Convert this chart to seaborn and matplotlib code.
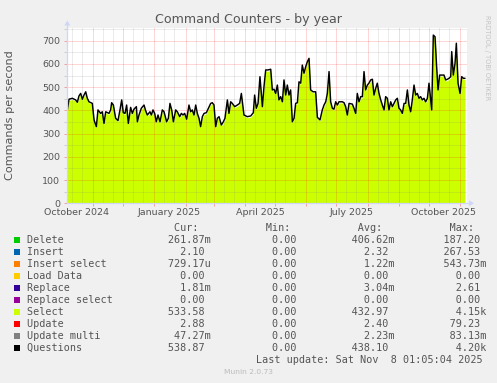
import numpy as np
import pandas as pd
import matplotlib
matplotlib.use("Agg")
import matplotlib.pyplot as plt
import seaborn as sns
from matplotlib.patches import Rectangle, Polygon
from matplotlib.lines import Line2D

# ---------------- data ----------------
START = "2024-10-06 10:30"          # time of the first sample
END = "2025-11-07 10:30"            # right edge of the time window

# sample times, in days after START
days = [0, 1.7, 5, 8.3, 10, 11.6, 13.3, 15, 16.6, 18.3, 19.9, 21.6, 24.9, 26.6, 28.9,
        30.5, 33.2, 34.8, 36.5, 38.2, 41.5, 43.1, 44.1, 45.8, 48.1, 50.4, 52.4, 54.1,
        55.7, 57.4, 59.0, 60.7, 63.0, 64.7, 66.3, 68.7, 69.7, 71.3, 73.6, 76.3, 77.9,
        79.6, 82.2, 83.6, 85.2, 86.9, 88.5, 90.2, 92.2, 94.5, 96.2, 98.8, 100.5, 102.1,
        103.8, 105.5, 107.8, 109.4, 111.8, 113.4, 115.1, 116.7, 118.7, 121.0, 122.7,
        124.3, 126.0, 127.7, 129.3, 131.0, 132.6, 134.3, 136.0, 138.3, 140.3, 142.6,
        144.2, 145.9, 147.6, 149.2, 150.9, 153.2, 155.2, 156.8, 159.2, 160.8, 162.5,
        164.1, 166.5, 169.1, 171.4, 173.1, 175.7, 179.0, 182.4, 185.0, 186.3, 188.0,
        189.7, 191.6, 194.0, 195.6, 197.3, 199.6,
        202.3, 203.9, 205.6, 207.2, 208.9, 210.5, 212.2, 213.9, 215.5, 217.2, 218.8,
        220.5, 222.1, 223.8, 225.5, 227.1, 228.8, 230.4, 232.1, 233.7, 235.4, 237.1,
        238.7, 240.4, 242.0, 244.4, 247.0, 248.7, 251.3, 253.6, 255.3, 257.0, 258.6,
        260.3, 261.9, 263.6, 265.2, 266.9, 268.6, 270.2, 273.5, 275.2, 276.8, 278.5,
        280.2, 283.5, 285.1, 286.8, 288.4, 290.1, 291.8, 293.4, 295.1, 296.7, 298.4,
        300.0, 301.7, 303.4, 305.0, 306.7, 308.3, 310.0, 311.7, 313.3, 315.0, 316.6,
        318.3, 319.9, 321.6, 323.3, 324.9, 326.6, 328.2, 329.9, 331.5, 333.2, 334.9,
        336.5, 338.2, 339.8, 341.5, 343.1, 344.8, 346.5, 348.1, 349.8, 351.4, 353.1,
        354.7, 356.4, 358.1, 359.7, 361.4, 362.4, 364.0, 365.7, 367.3, 368.7, 370.3,
        373.0, 374.6, 376.3, 378.0, 379.6, 381.3, 382.3, 383.9, 385.6, 386.9, 388.6,
        390.6, 392.2, 393.9, 395.5]

questions = [400, 448, 452, 445, 435, 462, 473, 448, 466, 480, 452, 437, 430, 359, 330,
             402, 387, 394, 344, 394, 387, 402, 433, 423, 366, 356, 402, 445, 390, 387,
             423, 344, 413, 387, 405, 416, 351, 380, 409, 423, 399, 380, 394, 380, 402,
             387, 351, 380, 351, 402, 394, 351, 366, 430, 402, 351, 402, 394, 373, 387,
             380, 387, 362, 423, 394, 402, 380, 423, 387, 366, 330, 373, 387, 390, 409,
             430, 433, 423, 330, 366, 373, 337, 351, 366, 445, 387, 437, 430, 416, 423,
             430, 473, 380, 373, 376, 390, 466, 409, 430, 545, 416, 502, 574, 574,
             577, 488, 491, 473, 509, 445, 459, 437, 531, 466, 509, 466, 488, 351, 366,
             430, 433, 523, 517, 595, 560, 588, 609, 624, 488, 480, 480, 370, 359, 402,
             423, 437, 473, 567, 437, 409, 405, 437, 423, 437, 437, 433, 416, 380, 430,
             427, 409, 387, 473, 437, 459, 459, 567, 488, 509, 517, 531, 534, 466, 495,
             517, 473, 445, 423, 402, 459, 452, 402, 437, 416, 430, 445, 452, 409, 402,
             387, 430, 430, 488, 423, 394, 445, 509, 466, 473, 452, 459, 445, 452, 437,
             452, 517, 445, 402, 724, 717, 588, 488, 552, 552, 552, 531, 534, 538, 545,
             653, 552, 603, 689, 517, 473, 545, 538, 538]

select = [395, 443, 447, 440, 430, 457, 468, 443, 461, 475, 447, 432, 425, 354, 325,
          397, 382, 389, 339, 389, 382, 397, 428, 418, 361, 351, 397, 440, 385, 382,
          418, 339, 408, 382, 400, 411, 346, 375, 404, 418, 394, 375, 389, 375, 397,
          382, 346, 375, 346, 397, 389, 346, 361, 425, 397, 346, 397, 389, 368, 382,
          375, 382, 357, 418, 389, 397, 375, 418, 382, 361, 325, 368, 382, 385, 404,
          425, 428, 418, 325, 361, 368, 332, 346, 361, 440, 382, 432, 425, 411, 418,
          425, 468, 375, 368, 371, 385, 461, 404, 425, 540, 411, 497, 569, 569,
          572, 483, 486, 468, 504, 440, 454, 432, 526, 461, 504, 461, 483, 346, 361,
          425, 428, 518, 512, 590, 555, 583, 604, 619, 483, 475, 475, 365, 354, 397,
          418, 432, 468, 562, 432, 404, 400, 432, 418, 432, 432, 428, 411, 375, 425,
          422, 404, 382, 468, 432, 454, 454, 562, 483, 504, 512, 526, 529, 461, 490,
          512, 468, 440, 418, 397, 454, 447, 397, 432, 411, 425, 440, 447, 404, 397,
          382, 425, 425, 483, 418, 389, 440, 504, 461, 468, 447, 454, 440, 447, 432,
          447, 512, 440, 397, 719, 712, 583, 483, 547, 547, 547, 526, 529, 533, 540,
          648, 547, 598, 684, 512, 468, 540, 533, 534]

x_labels = ["October 2024", "January 2025", "April 2025", "July 2025", "October 2025"]
x_label_dates = ["2024-10-16", "2025-01-16", "2025-04-16", "2025-07-16", "2025-10-16"]
y_ticks = [0, 100, 200, 300, 400, 500, 600, 700]

legend_labels = ["Delete", "Insert", "Insert select", "Load Data", "Replace",
                 "Replace select", "Select", "Update", "Update multi", "Questions"]
legend_colors = ["#00CC00", "#0066B3", "#FF8000", "#FFCC00", "#330099",
                 "#990099", "#CCFF00", "#FF0000", "#808080", "#000000"]
cur_vals = ["261.87m", "2.10", "729.17u", "0.00", "1.81m", "0.00", "533.58", "2.88", "47.27m", "538.87"]
min_vals = ["0.00"] * 10
avg_vals = ["406.62m", "2.32", "1.22m", "0.00", "3.04m", "0.00", "432.97", "2.40", "2.23m", "438.10"]
max_vals = ["187.20", "267.53", "543.73m", "0.00", "2.61", "0.00", "4.15k", "79.23", "83.13m", "4.20k"]

# ---------------- styling ----------------
W, H = 497, 383
sns.set_theme(style="white")
plt.rcParams["font.family"] = ["DejaVu Sans"]
TXT = "#555555"
AXC = "#CFD6F8"
MGRID = (1.0, 0.0, 0.0, 0.32)
GRID = (0.5, 0.5, 0.5, 0.30)

fig = plt.figure(figsize=(W / 100, H / 100), dpi=100, facecolor="#F0F0F0")


def fx(x):
    return x / W


def fy(y):
    return 1 - y / H


L, R, T, B = 67.3, 466.5, 27.9, 203.3
ax = fig.add_axes([fx(L), fy(B), (R - L) / W, (B - T) / H])
ax.set_facecolor("white")

t0 = pd.Timestamp(START)
dates = t0 + pd.to_timedelta(np.array(days), unit="D")
df = pd.DataFrame({"time": dates, "Questions": questions, "Select": select})

ax.fill_between(df["time"], 0, df["Select"], color="#CCFF00", lw=0, zorder=2)
sns.lineplot(data=df, x="time", y="Questions", color="black", lw=1.05, ax=ax, zorder=4)

ax.set_xlim(t0, pd.Timestamp(END))
ax.set_ylim(0, 755)

# grid lines (dotted, RRDtool style)
dot = (0, (1, 1))
gkw = dict(ls=dot, lw=0.72, zorder=3)
for m in pd.date_range("2024-11-01", "2025-11-01", freq="MS"):
    ax.axvline(m, color=MGRID, **gkw)
for m in pd.date_range("2024-10-01", "2025-10-01", freq="MS"):
    for d in (10, 20):
        ax.axvline(m + pd.Timedelta(days=d), color=GRID, **gkw)
for v in range(100, 800, 100):
    ax.axhline(v, color=MGRID, **gkw)
for v in range(50, 800, 100):
    ax.axhline(v, color=GRID, **gkw)

# ticks
ax.set_yticks(y_ticks, labels=[str(v) for v in y_ticks])
ax.set_yticks(list(range(50, 800, 100)), minor=True)
ax.set_xticks(list(pd.date_range("2024-11-01", "2025-11-01", freq="MS")), labels=[""] * 13)
ax.set_xticks(list(pd.to_datetime(x_label_dates)), labels=x_labels, minor=True)
ax.tick_params(axis="y", which="major", length=2, width=0.72, color=MGRID, pad=3.2,
               labelsize=6.8, labelcolor=TXT, left=True)
ax.tick_params(axis="y", which="minor", length=2, width=0.72, color=GRID, left=True)
ax.tick_params(axis="x", which="major", length=2, width=0.72, color=MGRID, bottom=True)
ax.tick_params(axis="x", which="minor", length=0, pad=3.3, labelsize=6.8, labelcolor=TXT,
               bottom=True)
ax.set_xlabel("")
ax.set_ylabel("")

for s in ("top", "right"):
    ax.spines[s].set_visible(False)
for s in ("left", "bottom"):
    ax.spines[s].set_color(AXC)
    ax.spines[s].set_linewidth(0.9)
    ax.spines[s].set_zorder(5)

# axis arrows
fig.add_artist(Line2D([fx(L), fx(L)], [fy(T), fy(24)], color=AXC, lw=0.9, transform=fig.transFigure))
fig.add_artist(Polygon([(fx(L), fy(20.5)), (fx(L - 3), fy(25.5)), (fx(L + 3), fy(25.5))],
                       closed=True, color=AXC, lw=0, transform=fig.transFigure))
fig.add_artist(Line2D([fx(R), fx(469.5)], [fy(B), fy(B)], color=AXC, lw=0.9, transform=fig.transFigure))
fig.add_artist(Polygon([(fx(474), fy(B)), (fx(469), fy(B - 3)), (fx(469), fy(B + 3))],
                       closed=True, color=AXC, lw=0, transform=fig.transFigure))

# texts
fig.text(fx(248.7), fy(19.5), "Command Counters - by year", ha="center", va="center",
         fontsize=9.1, color=TXT)
fig.text(fx(10.5), fy(115.6), "Commands per second", rotation=90, ha="center", va="center",
         fontsize=8.1, color=TXT)
fig.text(fx(487.5), fy(57.5), "RRDTOOL / TOBI OETIKER", rotation=270, ha="center", va="center",
         fontsize=4.8, color="#C4C4C4")

# legend table
MONO = "DejaVu Sans Mono"
FS = 7.26


def cell(s):
    s = s if s[-1].isalpha() else s + " "
    return s.rjust(7)


gap = " " * 8
header = " " * 24 + "Cur:" + " " * 11 + "Min:" + " " * 11 + "Avg:" + " " * 11 + "Max:"
fig.text(fx(26.7), fy(227.8), header, family=MONO, fontsize=FS, color=TXT, ha="left", va="center")
for i, lab in enumerate(legend_labels):
    y = 240 + 12 * i
    row = lab.ljust(23) + cell(cur_vals[i]) + gap + cell(min_vals[i]) + gap + \
        cell(avg_vals[i]) + gap + cell(max_vals[i])
    fig.text(fx(26.7), fy(y), row, family=MONO, fontsize=FS, color=TXT, ha="left", va="center")
    fig.add_artist(Rectangle((fx(14), fy(y + 3)), 6 / W, 6 / H, transform=fig.transFigure,
                             facecolor=legend_colors[i], edgecolor="none"))
fig.text(fx(482.8), fy(360), "Last update: Sat Nov  8 01:05:04 2025", family=MONO, fontsize=FS,
         color=TXT, ha="right", va="center")
fig.text(fx(248), fy(372.3), "Munin 2.0.73", ha="center", va="center", fontsize=5.4, color="#BBBBBB")

fig.savefig("out.png", dpi=100, facecolor=fig.get_facecolor())
